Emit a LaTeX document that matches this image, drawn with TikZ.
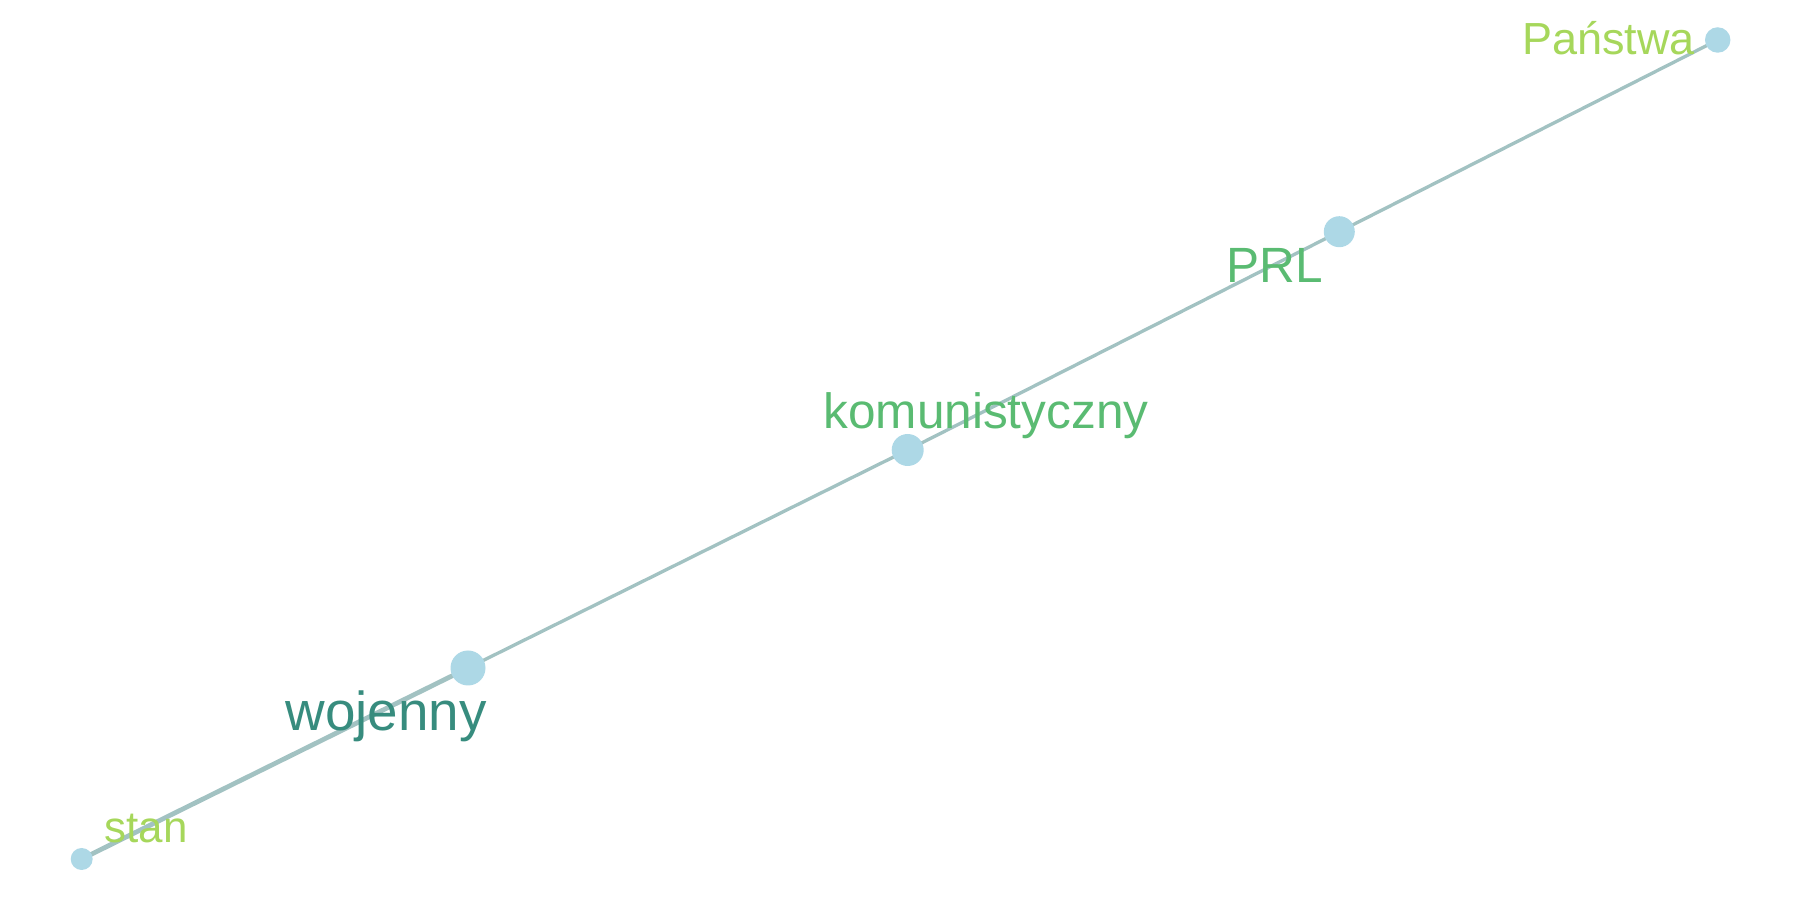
\documentclass[tikz,border=0pt]{standalone}
\usepackage{fontspec}
\setmainfont{Liberation Sans}
\usepackage{tikz}
\usetikzlibrary{backgrounds}
\usepackage{color}
\definecolor{nodeblue}{HTML}{ADD8E6}
\definecolor{edgegray}{HTML}{A2C2C2}
\definecolor{lime}{HTML}{A6D75B}
\definecolor{midgreen}{HTML}{5ABB72}
\definecolor{teal}{HTML}{378C7E}

\begin{document}
\begin{tikzpicture}[
  vert/.style={circle,fill=nodeblue,inner sep=0pt,minimum size=#1},
  word/.style={anchor=base west,inner sep=0pt},
  link/.style={draw=edgegray,line width=0.95pt}]
\useasboundingbox (0,0) rectangle (18,9);
% vertices
\node[vert=2.2mm] (stan) at (0.817,0.41) {};
\node[vert=3.5mm] (wojenny) at (4.68,2.32) {};
\node[vert=3.2mm] (komun) at (9.077,4.50) {};
\node[vert=3.1mm] (prl) at (13.393,6.683) {};
\node[vert=2.55mm] (panstwa) at (17.177,8.60) {};
% labels
\node[word,text=lime,font=\fontsize{12.5pt}{15pt}\selectfont] (lstan) at (1.04,0.57) {stan};
\node[word,text=teal,font=\fontsize{15.6pt}{18pt}\selectfont] (lwojenny) at (2.85,1.69) {wojenny};
\node[word,text=midgreen,font=\fontsize{14.1pt}{17pt}\selectfont] (lkomun) at (8.227,4.71) {komunistyczny};
\node[word,text=midgreen,font=\fontsize{14.1pt}{17pt}\selectfont] (lprl) at (12.26,6.17) {PRL};
\node[word,text=lime,font=\fontsize{12.8pt}{15pt}\selectfont] (lpanstwa) at (15.217,8.45) {Państwa};
% edges
\begin{scope}[on background layer]
\draw[link,line width=1.35pt] (stan.center) -- (wojenny.center);
\draw[link] (wojenny.center) -- (komun.center);
\draw[link] (komun.center) -- (prl.center);
\draw[link] (prl.center) -- (panstwa.center);
\end{scope}
\end{tikzpicture}
\end{document}
